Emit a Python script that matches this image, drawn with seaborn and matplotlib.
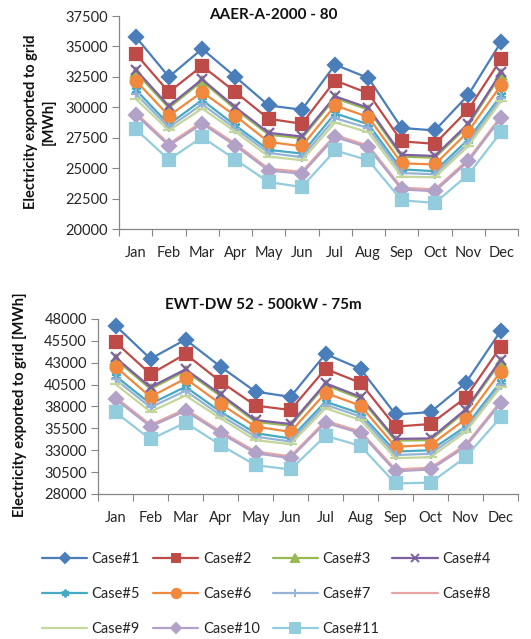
import numpy as np
import pandas as pd
import matplotlib
matplotlib.use("Agg")
import matplotlib.pyplot as plt
from matplotlib.lines import Line2D
import seaborn as sns

months = ["Jan", "Feb", "Mar", "Apr", "May", "Jun", "Jul", "Aug", "Sep", "Oct", "Nov", "Dec"]
cases = [f"Case#{i}" for i in range(1, 12)]

# Top chart: AAER-A-2000 - 80  (MWh)
aaer_case1 = [35800, 32500, 34800, 32500, 30150, 29800, 33500, 32400, 28300, 28100, 31000, 35400]
aaer_case2 = [34400, 31250, 33400, 31250, 29050, 28650, 32200, 31150, 27200, 27000, 29800, 34000]
aaer_case3 = [32900, 29950, 32150, 29850, 27750, 27450, 30750, 29800, 25950, 25850, 28500, 32750]
aaer_case4 = [33100, 30100, 32300, 30000, 27900, 27600, 30900, 29950, 26100, 26000, 28650, 32900]
aaer_case5 = [31450, 28600, 30600, 28500, 26500, 26200, 29500, 28600, 24900, 24750, 27350, 31000]
aaer_case6 = [32200, 29300, 31250, 29300, 27150, 26800, 30150, 29200, 25400, 25300, 28000, 31850]
aaer_case7 = [31100, 28350, 30250, 28250, 26250, 25900, 29100, 28300, 24600, 24500, 27050, 30800]
aaer_case8 = [29550, 27000, 28800, 27000, 24950, 24700, 27700, 26850, 23400, 23250, 25700, 29300]
aaer_case9 = [30700, 28100, 29900, 28000, 25950, 25650, 28750, 27950, 24300, 24250, 26800, 30550]
aaer_case10 = [29400, 26850, 28650, 26850, 24800, 24550, 27550, 26700, 23250, 23100, 25550, 29150]
aaer_case11 = [28200, 25700, 27550, 25700, 23850, 23450, 26450, 25650, 22350, 22150, 24450, 28000]

# Bottom chart: EWT-DW 52 - 500kW - 75m  (MWh)
ewt_case1 = [47250, 43450, 45650, 42550, 39700, 39100, 44000, 42300, 37100, 37350, 40650, 46600]
ewt_case2 = [45350, 41700, 44000, 40850, 38100, 37600, 42300, 40700, 35700, 36000, 39000, 44800]
ewt_case3 = [43400, 40000, 42050, 39200, 36250, 35800, 40450, 38900, 34100, 34150, 37450, 43100]
ewt_case4 = [43600, 40200, 42250, 39400, 36450, 36000, 40650, 39100, 34300, 34350, 37650, 43300]
ewt_case5 = [41500, 38300, 40250, 37400, 34950, 34350, 38550, 37200, 32850, 33000, 35700, 40800]
ewt_case6 = [42550, 39100, 41200, 38300, 35700, 35100, 39550, 38100, 33400, 33600, 36550, 41950]
ewt_case7 = [41100, 37900, 39800, 37000, 34550, 34000, 38200, 36850, 32450, 32600, 35400, 40500]
ewt_case8 = [39050, 35900, 37700, 35150, 32850, 32300, 36350, 35150, 30800, 31000, 33600, 38550]
ewt_case9 = [40550, 37400, 39250, 36650, 34150, 33700, 37800, 36450, 32100, 32200, 35100, 40200]
ewt_case10 = [38850, 35700, 37500, 34950, 32650, 32100, 36150, 34950, 30600, 30800, 33400, 38350]
ewt_case11 = [37350, 34250, 36150, 33600, 31300, 30800, 34650, 33500, 29200, 29300, 32200, 36750]

aaer = [aaer_case1, aaer_case2, aaer_case3, aaer_case4, aaer_case5, aaer_case6,
        aaer_case7, aaer_case8, aaer_case9, aaer_case10, aaer_case11]
ewt = [ewt_case1, ewt_case2, ewt_case3, ewt_case4, ewt_case5, ewt_case6,
       ewt_case7, ewt_case8, ewt_case9, ewt_case10, ewt_case11]

colors = ["#4A7EBB", "#BE4B48", "#98B954", "#7D60A0", "#46AAC5", "#F0883E",
          "#95B3D7", "#E6A5A3", "#C3D69B", "#B3A2C7", "#93CDDD"]
markers = ["D", "s", "^", "x", (6, 2, 0), "o", "+", "_", "_", "D", "s"]
msizes = [7, 8, 7, 7, 7, 8.5, 7, 5, 8, 7, 8.5]


def to_long(series_list):
    rows = []
    for c, vals in zip(cases, series_list):
        for i, v in enumerate(vals):
            rows.append({"month": i, "value": v, "case": c})
    return pd.DataFrame(rows)


sns.set_theme(style="white")
plt.rcParams["font.family"] = ["Lato", "DejaVu Sans"]

W, H = 531, 639
fig = plt.figure(figsize=(W / 100, H / 100), dpi=100)

ax1 = fig.add_axes([119 / W, 1 - 229 / H, (518 - 119) / W, (229 - 16) / H])
ax2 = fig.add_axes([98 / W, 1 - 494 / H, (518 - 98) / W, (494 - 319) / H])


def draw(ax, series_list, ylo, yhi):
    df = to_long(series_list)
    for c, col, m, ms in zip(cases, colors, markers, msizes):
        sub = df[df["case"] == c]
        sns.lineplot(data=sub, x="month", y="value", color=col, marker=m,
                     markersize=ms, markeredgecolor=col, markerfacecolor=col,
                     markeredgewidth=1.6, linewidth=1.6, legend=False, ax=ax,
                     sort=False, clip_on=False)
    ax.set_xlim(-0.5, 11.5)
    ax.set_ylim(ylo, yhi)
    ax.set_yticks(np.arange(ylo, yhi + 1, 2500))
    ax.set_yticklabels([str(v) for v in np.arange(ylo, yhi + 1, 2500)], fontsize=10.5, color="#262626")
    ax.set_xticks(range(12))
    ax.set_xticklabels(months, fontsize=10.5, color="#262626")
    ax.set_xticks(np.arange(-0.5, 12, 1), minor=True)
    ax.tick_params(axis="x", which="major", length=0, pad=12)
    ax.tick_params(axis="x", which="minor", length=5, color="#868686", width=0.8, direction="out", bottom=True)
    ax.tick_params(axis="y", length=5, color="#868686", width=0.8, direction="out", pad=3, left=True)
    for s in ["top", "right"]:
        ax.spines[s].set_visible(False)
    for s in ["left", "bottom"]:
        ax.spines[s].set_color("#868686")
        ax.spines[s].set_linewidth(0.9)
    ax.set_xlabel("")
    ax.set_ylabel("")
    ax.grid(False)


draw(ax1, aaer, 20000, 37500)
draw(ax2, ewt, 28000, 48000)

fig.text(273 / W, 1 - 15 / H, "AAER-A-2000 - 80", ha="center", va="center",
         fontsize=11, fontweight="bold", color="#111111")
fig.text(263 / W, 1 - 305 / H, "EWT-DW 52 - 500kW - 75m", ha="center", va="center",
         fontsize=11, fontweight="bold", color="#111111")

fig.text(40 / W, 1 - 122 / H, "Electricity exported to grid\n[MWh]", rotation=90,
         ha="center", va="center", fontsize=10.5, fontweight="bold", color="#111111",
         multialignment="center", linespacing=1.3)
fig.text(20 / W, 1 - 405 / H, "Electricity exported to grid [MWh]", rotation=90,
         ha="center", va="center", fontsize=10.5, fontweight="bold", color="#111111")

handles = []
for c, col, m, ms in zip(cases, colors, markers, msizes):
    handles.append(Line2D([0], [0], color=col, marker=m, markersize=ms * 0.8,
                          markerfacecolor=col, markeredgecolor=col, markeredgewidth=1.4,
                          linewidth=1.6, label=c))
order = [0, 4, 8, 1, 5, 9, 2, 6, 10, 3, 7]
leg = fig.legend([handles[i] for i in order], [cases[i] for i in order],
                 loc="upper left", bbox_to_anchor=(42 / W, 1 - 552 / H), ncol=4,
                 frameon=False, fontsize=10.5, handlelength=3.1, handletextpad=0.3,
                 columnspacing=0.9, labelspacing=1.45, borderaxespad=0, borderpad=0)
for t in leg.get_texts():
    t.set_color("#262626")

fig.savefig("out.png", dpi=100)
